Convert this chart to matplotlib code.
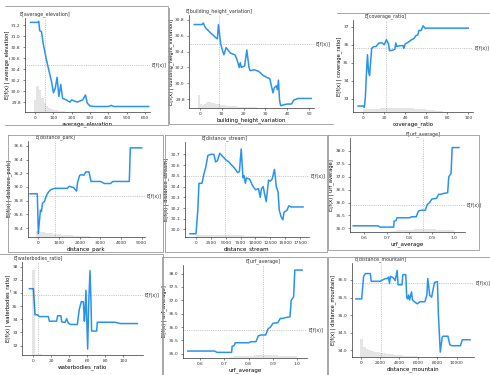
import numpy as np
import matplotlib
matplotlib.use('Agg')
import matplotlib.pyplot as plt
from matplotlib.lines import Line2D

BLUE = '#2a93ee'
W, H = 490, 375

# ------------------------------------------------------------
# average_elevation
# ------------------------------------------------------------
elev_x = [-25, 15, 20, 25, 35, 45, 60, 75, 90, 100, 110, 120, 130, 140, 150, 170,
          190, 200, 230, 260, 275, 285, 300, 320, 400, 415, 430, 620]
elev_y = [31.25, 31.25, 31.27, 31.1, 31.08, 30.85, 30.6, 30.38, 30.17, 29.97, 30.05,
          30.25, 29.9, 30.12, 29.87, 29.84, 29.8, 29.84, 29.8, 29.84, 29.93, 29.78,
          29.73, 29.72, 29.72, 29.74, 29.72, 29.72]
elev_edges = [-6, 7, 20, 33, 46, 59, 72, 85, 98, 111, 124, 137, 150, 163]
elev_counts = [12, 26, 22, 14, 9, 6, 4, 3, 2, 2, 1.5, 1, 0.7]

# ------------------------------------------------------------
# building_height_variation
# ------------------------------------------------------------
bhv_x = [-2.6, 1, 1.5, 2.5, 4, 5, 6, 7, 8, 8.5, 9.5, 10.5, 11, 12, 14, 16, 17, 18,
         18.5, 19, 20.5, 21.5, 22.5, 23, 25, 27, 29, 31, 32, 33.5, 34, 35, 35.5, 36,
         36.5, 37, 40, 42, 43, 45, 51]
bhv_y = [30.74, 30.74, 30.76, 30.7, 30.66, 30.63, 30.61, 30.58, 30.56, 30.74, 30.5,
         30.4, 30.36, 30.45, 30.38, 30.36, 30.3, 30.2, 30.26, 30.2, 30.22, 30.42, 30.2,
         30.16, 30.17, 30.15, 30.1, 30.07, 30.06, 29.88, 29.94, 29.97, 29.92, 30.04,
         29.79, 29.72, 29.74, 29.74, 29.79, 29.81, 29.81]
bhv_edges = list(range(-1, 31))
bhv_counts = [13, 4, 3, 4, 6, 6, 5, 5, 4, 4, 3, 3, 3, 2.5, 2.5, 2, 2, 2, 1.5, 1.5,
              1.5, 1.2, 1, 1, 1, 0.8, 0.6, 0.5, 0.5, 0.4, 0.3]

# ------------------------------------------------------------
# coverage_ratio
# ------------------------------------------------------------
cov_x = [-5, 0, 1, 2, 3, 4, 5, 6, 7, 8, 10, 12, 13.5, 15, 18, 20, 22, 24, 25, 28, 30,
         31, 32, 35, 38, 38.5, 40, 43, 46, 48, 50, 52, 53, 55, 57, 59, 60, 100]
cov_y = [32.61, 32.61, 32.54, 33.13, 34.43, 35.45, 34.5, 34.3, 35.05, 35.8, 35.9,
         35.9, 36.0, 36.1, 36.1, 36.0, 36.28, 36.05, 35.67, 35.7, 35.75, 36.1, 35.9,
         35.95, 35.95, 35.8, 36.05, 36.15, 36.28, 36.33, 36.5, 36.55, 36.8, 36.78,
         37.05, 36.9, 36.92, 36.92]
cov_edges = list(range(0, 80, 4))
cov_counts = [3, 3, 3.5, 3.5, 4, 4, 4, 4, 4, 4, 4.5, 4, 3.5, 3, 3, 2.5, 2, 1.5, 1]

# ------------------------------------------------------------
# distance_park
# ------------------------------------------------------------
park_x = [-400, -50, 0, 100, 150, 200, 300, 400, 500, 600, 800, 1000, 1400, 1500,
          1700, 1850, 1900, 2000, 2100, 2200, 2300, 2450, 2550, 3000, 3200, 3500,
          3600, 4400, 4450, 5000]
park_y = [35.9, 35.9, 35.32, 35.66, 35.64, 35.76, 35.79, 35.88, 35.93, 35.96, 35.98,
          35.98, 35.98, 36.01, 35.99, 35.94, 36.07, 36.17, 36.18, 36.17, 36.22, 36.22,
          36.08, 36.08, 36.05, 36.05, 36.08, 36.08, 36.57, 36.57]
park_edges = list(range(-100, 2600, 200))
park_counts = [6, 5, 4.5, 4, 3.5, 3, 2.5, 2, 1.8, 1.5, 1.2, 1, 0.8]

# ------------------------------------------------------------
# distance_stream
# ------------------------------------------------------------
stream_x = [-1000, 0, 300, 500, 1000, 1300, 1600, 2000, 2500, 3000, 3300, 3600, 4000,
            4500, 5000, 5500, 6000, 6500, 7000, 7300, 7600, 7900, 8100, 8300, 8500,
            9000, 9500, 10000, 10500, 10800, 11000, 11300, 11500, 11800, 12200, 12500,
            12800, 13200, 13500, 13800, 14000, 14300, 14600, 14800, 15300, 15600,
            16000, 18000]
stream_y = [29.96, 29.96, 30.18, 30.43, 30.43, 30.51, 30.57, 30.69, 30.7, 30.7, 30.63,
            30.64, 30.71, 30.68, 30.65, 30.63, 30.6, 30.57, 30.53, 30.54, 30.75, 30.48,
            30.5, 30.43, 30.48, 30.47, 30.41, 30.37, 30.38, 30.3, 30.38, 30.4, 30.34,
            30.26, 30.46, 30.45, 30.47, 30.56, 30.4, 30.35, 30.18, 30.12, 30.09, 30.16,
            30.18, 30.22, 30.21, 30.21]
stream_edges = list(range(0, 13000, 1000))
stream_counts = [2, 2.5, 2.5, 2.5, 2.5, 2, 2, 2, 1.5, 1.5, 1.2, 1]

# ------------------------------------------------------------
# urf_average
# ------------------------------------------------------------
urf_x = [0.55, 0.66, 0.67, 0.73, 0.732, 0.74, 0.745, 0.8, 0.81, 0.83, 0.84, 0.85,
         0.87, 0.88, 0.89, 0.9, 0.92, 0.93, 0.94, 0.95, 0.97, 0.975, 0.985, 0.99, 1.02]
urf_y = [35.1, 35.1, 35.05, 35.05, 35.28, 35.3, 35.41, 35.41, 35.45, 35.45, 35.67,
         35.7, 35.7, 35.93, 36.0, 36.14, 36.16, 36.32, 36.32, 36.35, 36.38, 37.0,
         37.13, 38.13, 38.13]
urf_edges = list(np.arange(0.72, 1.01, 0.02))
urf_counts = [1.5, 2, 2, 2.5, 2.5, 3, 3, 3, 3, 3, 2.5, 2.5, 2.5, 2]

# ------------------------------------------------------------
# waterbodies_ratio
# ------------------------------------------------------------
water_x = [-4.4, 0, 1.1, 1.9, 4.4, 6.7, 16.7, 17.8, 25.9, 27, 30.7, 31.5, 35.2, 37,
           38.9, 41.5, 48.9, 51.1, 53.3, 55.6, 56.7, 57.4, 58.5, 59.3, 60.4, 61.5,
           63, 64.1, 64.8, 70.4, 71.1, 79.6, 90.7, 97, 115.6]
water_y = [36.32, 36.32, 35.2, 34.34, 34.34, 34.2, 34.2, 33.85, 33.85, 34.26, 34.26,
           33.8, 33.75, 34.04, 33.7, 33.6, 33.6, 34.76, 35.33, 35.33, 33.85, 34.5,
           36.2, 34.1, 31.73, 35.08, 37.69, 35.3, 33.1, 33.1, 33.77, 33.77, 33.77,
           33.67, 33.67]
water_edges = [-1, 2.2, 5, 10, 20]
water_counts = [85, 1.5, 1, 0.5]

# ------------------------------------------------------------
# distance_mountain
# ------------------------------------------------------------
mount_x = [-500, 100, 300, 500, 1000, 1100, 2000, 2500, 2800, 2900, 3000, 3100, 3400,
           3600, 3800, 3900, 4300, 4400, 4700, 4800, 4900, 5000, 5100, 5300, 5400,
           5600, 5900, 6200, 6700, 6900, 7000, 7200, 7400, 7500, 7700, 8000, 8100,
           8300, 8500, 8600, 9100, 9300, 9500, 10400, 10600, 11400]
mount_y = [35.46, 35.46, 36.1, 36.18, 36.18, 35.96, 35.96, 36.03, 36.04, 36.08, 35.9,
           36.1, 36.06, 35.98, 36.27, 35.86, 35.86, 36.15, 36.15, 35.5, 35.46, 35.57,
           35.43, 35.66, 35.43, 35.38, 35.32, 35.38, 35.38, 35.56, 36.04, 35.56,
           35.51, 35.66, 35.93, 35.95, 35.04, 33.95, 34.37, 34.4, 34.4, 34.16, 34.13,
           34.13, 34.3, 34.3]
mount_edges = list(range(-100, 6000, 300))
mount_counts = [18, 10, 8, 7, 6, 5.5, 5, 4.5, 4, 3.5, 3, 3, 2.5, 2, 2, 1.5, 1.5, 1,
                1, 0.8]


def px_rect(l, t, r, b):
    return [l / W, 1 - b / H, (r - l) / W, (b - t) / H]


def pdp(fig, rect, name, x, y, edges, counts, ex, efx, xlim, ylim, xticks, yticks,
        xfmt='{:g}', yfmt='{:.1f}'):
    ax = fig.add_axes(px_rect(*rect))
    # histogram of the feature on its own scale
    ax2 = ax.twinx()
    ax2.bar(edges[:-1], counts, width=np.diff(edges), align='edge',
            color='black', alpha=0.1, linewidth=0)
    ax2.set_ylim(0, rect[3] - rect[1])
    ax2.set_yticks([])
    for s in ax2.spines.values():
        s.set_visible(False)

    ax.plot(x, y, color=BLUE, lw=1.1, zorder=3)
    ax.axvline(ex, color='#999999', lw=0.5, ls=':', zorder=1)
    ax.axhline(efx, color='#999999', lw=0.5, ls=':', zorder=1)
    ax.set_xlim(*xlim)
    ax.set_ylim(*ylim)
    ax2.set_xlim(*xlim)
    ax.set_xticks(xticks)
    ax.set_xticklabels([xfmt.format(v) for v in xticks])
    ax.set_yticks(yticks)
    ax.set_yticklabels([yfmt.format(v) for v in yticks])
    ax.tick_params(labelsize=3.2, length=1.5, width=0.4, pad=1.5, colors='#333333')
    for s in ['top', 'right']:
        ax.spines[s].set_visible(False)
    for s in ['left', 'bottom']:
        ax.spines[s].set_linewidth(0.5)
        ax.spines[s].set_color('#333333')
    ax.set_xlabel(name, fontsize=4, labelpad=1)
    ax.set_ylabel('E[f(x) | %s]' % name, fontsize=3.7, labelpad=1.2)

    # expected feature value on top, expected output on the right
    ax3 = ax.twiny()
    ax3.set_xlim(*xlim)
    ax3.set_xticks([ex])
    ax3.set_xticklabels(['E[%s]' % name])
    ax3.tick_params(labelsize=3.4, length=0, pad=1, colors='#333333')
    for s in ax3.spines.values():
        s.set_visible(False)
    ax4 = ax.twinx()
    ax4.set_ylim(*ylim)
    ax4.set_yticks([efx])
    ax4.set_yticklabels(['E[f(x)]'])
    ax4.tick_params(labelsize=3.4, length=0, pad=1, colors='#333333')
    for s in ax4.spines.values():
        s.set_visible(False)
    return ax


def frame(fig, pts):
    xs = [p[0] / W for p in pts]
    ys = [1 - p[1] / H for p in pts]
    fig.add_artist(Line2D(xs, ys, color='#999999', lw=0.6))


fig = plt.figure(figsize=(4.9, 3.75), dpi=100)

pdp(fig, (25, 18, 150, 112), 'average_elevation', elev_x, elev_y, elev_edges,
    elev_counts, 55, 30.48, (-55, 627), (29.62, 31.33), [0, 100, 200, 300, 400, 500, 600],
    [29.8, 30.0, 30.2, 30.4, 30.6, 30.8, 31.0, 31.2])
pdp(fig, (189, 15, 314, 108), 'building_height_variation', bhv_x, bhv_y, bhv_edges,
    bhv_counts, 8.8, 30.5, (-5, 52.3), (29.69, 30.86), [0, 10, 20, 30, 40, 50],
    [29.8, 30.0, 30.2, 30.4, 30.6, 30.8])
pdp(fig, (353, 20, 473, 112), 'coverage_ratio', cov_x, cov_y, cov_edges, cov_counts,
    21.6, 35.81, (-9.8, 104.5), (32.28, 37.37), [0, 20, 40, 60, 80, 100],
    [33, 34, 35, 36, 37], yfmt='{:g}')

pdp(fig, (28, 141, 145, 237), 'distance_park', park_x, park_y, park_edges, park_counts,
    813, 35.87, (-500, 5160), (35.27, 36.67), [0, 1000, 2000, 3000, 4000, 5000],
    [35.4, 35.6, 35.8, 36.0, 36.2, 36.4, 36.6])
pdp(fig, (185, 142, 309, 237), 'distance_stream', stream_x, stream_y, stream_edges,
    stream_counts, 4800, 30.5, (-1850, 19000), (29.93, 30.815),
    [0, 2500, 5000, 7500, 10000, 12500, 15000, 17500],
    [30.0, 30.1, 30.2, 30.3, 30.4, 30.5, 30.6, 30.7])
pdp(fig, (350, 138, 465, 232), 'urf_average', urf_x, urf_y, urf_edges, urf_counts,
    0.862, 35.89, (0.536, 1.047), (34.86, 38.5), [0.6, 0.7, 0.8, 0.9, 1.0],
    [35.0, 35.5, 36.0, 36.5, 37.0, 37.5, 38.0], xfmt='{:.1f}')

pdp(fig, (22, 262, 143, 355), 'waterbodies_ratio', water_x, water_y, water_edges,
    water_counts, 5.5, 35.83, (-12.6, 121.9), (31.28, 38.35), [0, 20, 40, 60, 80, 100],
    [32, 33, 34, 35, 36, 37, 38], yfmt='{:g}')
pdp(fig, (183, 265, 307, 358), 'urf_average', urf_x, urf_y, urf_edges, urf_counts,
    0.857, 35.88, (0.530, 1.04), (34.84, 38.32), [0.6, 0.7, 0.8, 0.9, 1.0],
    [35.0, 35.5, 36.0, 36.5, 37.0, 37.5, 38.0], xfmt='{:.1f}')
pdp(fig, (352, 263, 474, 357), 'distance_mountain', mount_x, mount_y, mount_edges,
    mount_counts, 2100, 35.9, (-909, 11818), (33.81, 36.48),
    [0, 2000, 4000, 6000, 8000, 10000], [34.0, 34.5, 35.0, 35.5, 36.0])

# panel frames
frame(fig, [(5, 6), (168, 6), (168, 125), (5, 125)])
frame(fig, [(169, 8), (169, 124), (333, 124)])
frame(fig, [(337, 12.7), (490, 12.7)])
frame(fig, [(8, 135), (163, 135), (163, 252), (8, 252), (8, 135)])
frame(fig, [(165, 135), (327, 135), (327, 252), (165, 252), (165, 135)])
frame(fig, [(328, 135), (479, 135), (479, 250), (328, 250), (328, 135)])
frame(fig, [(0, 254), (163, 254), (163, 375)])
frame(fig, [(162, 375), (162, 257), (327, 257), (327, 375)])
frame(fig, [(328, 375), (328, 257), (490, 257)])

fig.savefig('out.png', dpi=100)
